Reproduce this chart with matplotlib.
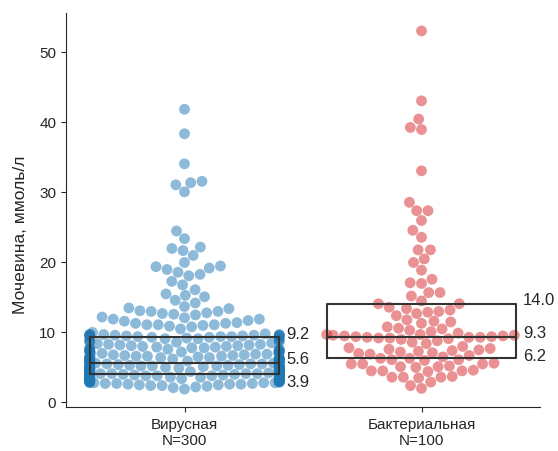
import warnings

import matplotlib
matplotlib.use("Agg")
import matplotlib.pyplot as plt
import numpy as np
import pandas as pd
import seaborn as sns

warnings.filterwarnings("ignore")

# Urea, mmol/l, per patient
groups = ["Вирусная", "Бактериальная"]
colors = ["#1f77b4", "#d62728"]

virus_urea = [
    1.8, 2.0, 2.1, 2.2, 2.3, 2.3, 2.4, 2.4, 2.5, 2.5,
    2.5, 2.6, 2.6, 2.6, 2.7, 2.7, 2.7, 2.7, 2.8, 2.8,
    2.8, 2.8, 2.9, 2.9, 2.9, 2.9, 3.0, 3.0, 3.0, 3.0,
    3.0, 3.1, 3.1, 3.1, 3.1, 3.1, 3.2, 3.2, 3.2, 3.2,
    3.2, 3.3, 3.3, 3.3, 3.3, 3.3, 3.4, 3.4, 3.4, 3.4,
    3.4, 3.5, 3.5, 3.5, 3.5, 3.5, 3.6, 3.6, 3.6, 3.6,
    3.6, 3.7, 3.7, 3.7, 3.7, 3.7, 3.8, 3.8, 3.8, 3.8,
    3.8, 3.8, 3.8, 3.8, 3.9, 3.9,
    4.0, 4.0, 4.0, 4.0, 4.0, 4.1, 4.1, 4.1, 4.1, 4.1,
    4.2, 4.2, 4.2, 4.2, 4.2, 4.3, 4.3, 4.3, 4.3, 4.3,
    4.4, 4.4, 4.4, 4.4, 4.4, 4.5, 4.5, 4.5, 4.5, 4.5,
    4.6, 4.6, 4.6, 4.6, 4.6, 4.7, 4.7, 4.7, 4.7, 4.7,
    4.8, 4.8, 4.8, 4.8, 4.8, 4.9, 4.9, 4.9, 4.9, 4.9,
    5.0, 5.0, 5.0, 5.0, 5.0, 5.1, 5.1, 5.1, 5.1, 5.1,
    5.2, 5.2, 5.2, 5.3, 5.3, 5.3, 5.4, 5.4, 5.4, 5.5,
    5.5, 5.5, 5.5, 5.6, 5.6,
    5.7, 5.7, 5.7, 5.8, 5.8, 5.8, 5.9, 5.9, 5.9, 6.0,
    6.0, 6.0, 6.1, 6.1, 6.1, 6.2, 6.2, 6.2, 6.3, 6.3,
    6.3, 6.4, 6.4, 6.4, 6.5, 6.5, 6.5, 6.6, 6.6, 6.7,
    6.7, 6.8, 6.8, 6.9, 6.9, 7.0, 7.0, 7.1, 7.1, 7.2,
    7.2, 7.3, 7.3, 7.4, 7.4, 7.5, 7.5, 7.6, 7.6, 7.7,
    7.7, 7.8, 7.8, 7.9, 7.9, 8.0, 8.0, 8.1, 8.1, 8.2,
    8.2, 8.3, 8.4, 8.5, 8.5, 8.6, 8.7, 8.8, 8.8, 8.9,
    9.0, 9.0, 9.1, 9.2, 9.2,
    9.3, 9.3, 9.3, 9.3, 9.4, 9.4, 9.4, 9.4, 9.4, 9.5,
    9.5, 9.5, 9.5, 9.6, 9.6, 9.6, 9.6, 9.7, 9.9, 10.4,
    10.7, 10.8, 10.9, 11.0, 11.0, 11.0, 11.2, 11.2, 11.3, 11.5,
    11.6, 11.8, 11.8, 12.0, 12.1, 12.4, 12.5, 12.6, 12.7, 12.9,
    12.9, 13.0, 13.3, 13.4, 13.6, 14.1, 14.5, 15.0, 15.2, 15.4,
    16.0, 16.7, 17.2, 18.0, 18.2, 18.5, 18.9, 19.1, 19.3, 19.4,
    19.9, 20.9, 21.6, 21.9, 22.1, 23.3, 24.4, 30.0, 31.0, 31.3,
    31.5, 34.0, 38.3, 41.8,
]

bact_urea = [
    1.9, 2.3, 2.8, 3.4, 3.5, 3.5, 3.5, 3.6, 4.3, 4.4,
    4.4, 4.4, 4.5, 4.9, 5.0, 5.0, 5.1, 5.4, 5.4, 5.4,
    5.5, 5.9, 6.0, 6.0, 6.2, 6.2,
    6.4, 6.6, 6.8, 6.9, 7.0, 7.1, 7.2, 7.3, 7.4, 7.5,
    7.6, 7.7, 7.9, 8.3, 8.5, 8.7, 8.9, 9.0, 9.1, 9.1,
    9.2, 9.2, 9.2, 9.3, 9.3,
    9.4, 9.4, 9.5, 9.5, 9.6, 9.6, 9.8, 10.0, 10.2, 10.4,
    10.5, 10.7, 11.2, 11.4, 11.5, 11.7, 12.3, 12.6, 12.8, 12.9,
    13.1, 13.3, 13.5, 14.0, 14.0,
    14.4, 15.1, 15.6, 15.6, 16.9, 17.0, 17.5, 18.8, 19.9, 20.4,
    21.7, 21.7, 23.5, 24.5, 25.9, 27.3, 27.3, 28.5, 33.0, 38.9,
    39.2, 40.4, 43.0, 53.0,
]

y_label = "Мочевина, ммоль/л"
y_ticks = [0, 10, 20, 30, 40, 50]

sns.set_style("ticks")
plt.rcParams["font.family"] = ["Liberation Sans", "DejaVu Sans"]
plt.rcParams["axes.edgecolor"] = "#262626"
plt.rcParams["xtick.color"] = "#262626"
plt.rcParams["ytick.color"] = "#262626"

series = [virus_urea, bact_urea]
df = pd.DataFrame({
    "group": [g for g, vals in zip(groups, series) for _ in vals],
    "value": [v for vals in series for v in vals],
})

fig = plt.figure(figsize=(5.58, 4.52), dpi=100)
ax = fig.add_axes([66 / 558, 44 / 452, 474 / 558, 394 / 452])

sns.swarmplot(data=df, x="group", y="value", hue="group", order=groups,
              hue_order=groups, palette=colors, size=7.8, alpha=0.5,
              linewidth=0, legend=False, warn_thresh=1.0, ax=ax)

ax.boxplot(series, positions=[0, 1], widths=0.8, whis=0,
           showcaps=False, showfliers=False, manage_ticks=False,
           boxprops=dict(color="#333333", linewidth=1.5),
           medianprops=dict(color="#333333", linewidth=1.5),
           whiskerprops=dict(linewidth=0), zorder=4)

all_vals = np.concatenate([np.asarray(s) for s in series])
lo, hi = all_vals.min(), all_vals.max()
pad = 0.05 * (hi - lo)
ax.set_xlim(-0.5, len(groups) - 0.5)
ax.set_ylim(lo - pad, hi + pad)
ax.set_yticks(y_ticks)
ax.set_xticks(range(len(groups)))
ax.set_xticklabels([f"{g}\nN={len(s)}" for g, s in zip(groups, series)],
                   fontsize=11)
ax.tick_params(axis="y", labelsize=11)
ax.set_xlabel("")
ax.set_ylabel(y_label, fontsize=12.5)
ax.yaxis.set_label_coords(-0.08, 0.44)
sns.despine(ax=ax)

# quartile labels to the right of each box, nudged apart when crowded
lift, min_gap = 4.0, 23.0
to_px = ax.transData
to_data = ax.transData.inverted()
for i, vals in enumerate(series):
    q1, med, q3 = np.percentile(vals, [25, 50, 75])
    xr = i + 0.4
    py = {q: to_px.transform((xr, q))[1] + lift for q in (q1, med, q3)}
    py[q1] = min(py[q1], py[med] - min_gap)
    py[q3] = max(py[q3], py[med] + min_gap)
    for q in (q1, med, q3):
        yd = to_data.transform((0, py[q]))[1]
        ax.annotate(f"{q:.1f}", xy=(xr, yd), xytext=(5, 0),
                    textcoords="offset points", ha="left", va="center",
                    fontsize=12, color="#262626", annotation_clip=False)

fig.savefig("out.png", dpi=100)
